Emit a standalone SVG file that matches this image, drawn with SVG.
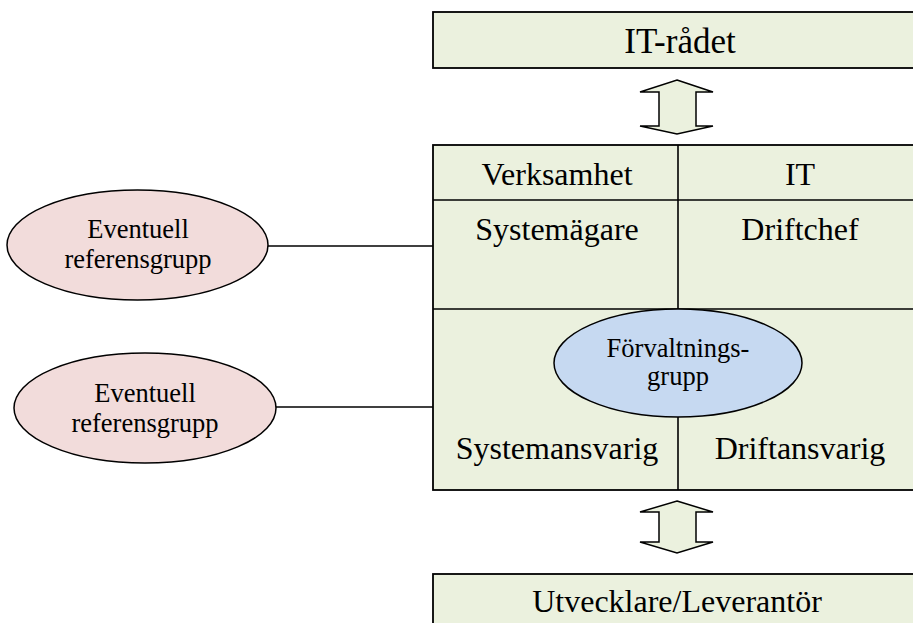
<svg xmlns="http://www.w3.org/2000/svg" width="913" height="623" viewBox="0 0 913 623">
<style>
.box{fill:#EBF1DE;stroke:#000;stroke-width:1.8}
.ln{stroke:#000;stroke-width:1.6;fill:none}
.pink{fill:#F2DCDB;stroke:#000;stroke-width:1.5}
.blue{fill:#C6D9F1;stroke:#000;stroke-width:1.5}
.arr{fill:#EBF1DE;stroke:#000;stroke-width:1.5;stroke-linejoin:miter}
text{font-family:"Liberation Serif","Times New Roman",serif;fill:#000;text-anchor:middle}
.big{font-size:32px}
.sm{font-size:26.5px}
</style>
<rect width="913" height="623" fill="#fff"/>
<g id="it-radet">
<rect class="box" x="433" y="12" width="490" height="56"/>
<text x="680" y="53" style="font-size:35px">IT-rådet</text>
</g>
<g id="main">
<rect class="box" x="433" y="145" width="490" height="345"/>
<line class="ln" x1="433" y1="200" x2="923" y2="200"/>
<line class="ln" x1="433" y1="309" x2="923" y2="309"/>
<line class="ln" x1="678" y1="145" x2="678" y2="490"/>
<text class="big" x="557" y="185">Verksamhet</text>
<text class="big" x="800" y="185">IT</text>
<text class="big" x="557" y="240">Systemägare</text>
<text class="big" x="800" y="240">Driftchef</text>
<text class="big" x="557" y="459">Systemansvarig</text>
<text class="big" x="800" y="459">Driftansvarig</text>
</g>
<g id="forvaltningsgrupp">
<ellipse class="blue" cx="678" cy="363" rx="124" ry="54"/>
<text class="sm" x="678" y="357">Förvaltnings-</text>
<text class="sm" x="678" y="385">grupp</text>
</g>
<g id="utvecklare">
<rect class="box" x="433" y="574" width="490" height="60"/>
<text class="big" x="677" y="612">Utvecklare/Leverantör</text>
</g>
<g id="ref1">
<ellipse class="pink" cx="137.5" cy="245" rx="130.5" ry="55"/>
<text class="sm" x="138" y="238">Eventuell</text>
<text class="sm" x="138" y="268">referensgrupp</text>
</g>
<g id="ref2">
<ellipse class="pink" cx="145" cy="408" rx="131" ry="55"/>
<text class="sm" x="145" y="402">Eventuell</text>
<text class="sm" x="145" y="432">referensgrupp</text>
</g>
<g id="connectors">
<line class="ln" x1="268" y1="246" x2="433" y2="246"/>
<line class="ln" x1="276" y1="407" x2="433" y2="407"/>
<polygon class="arr" points="677,80 713,92 696,92 696,126 713,126 677,134 640,126 659,126 659,92 640,92"/>
<polygon class="arr" points="677,501 713,512 696,512 696,542 713,542 677,553 640,542 659,542 659,512 640,512"/>
</g>
</svg>
